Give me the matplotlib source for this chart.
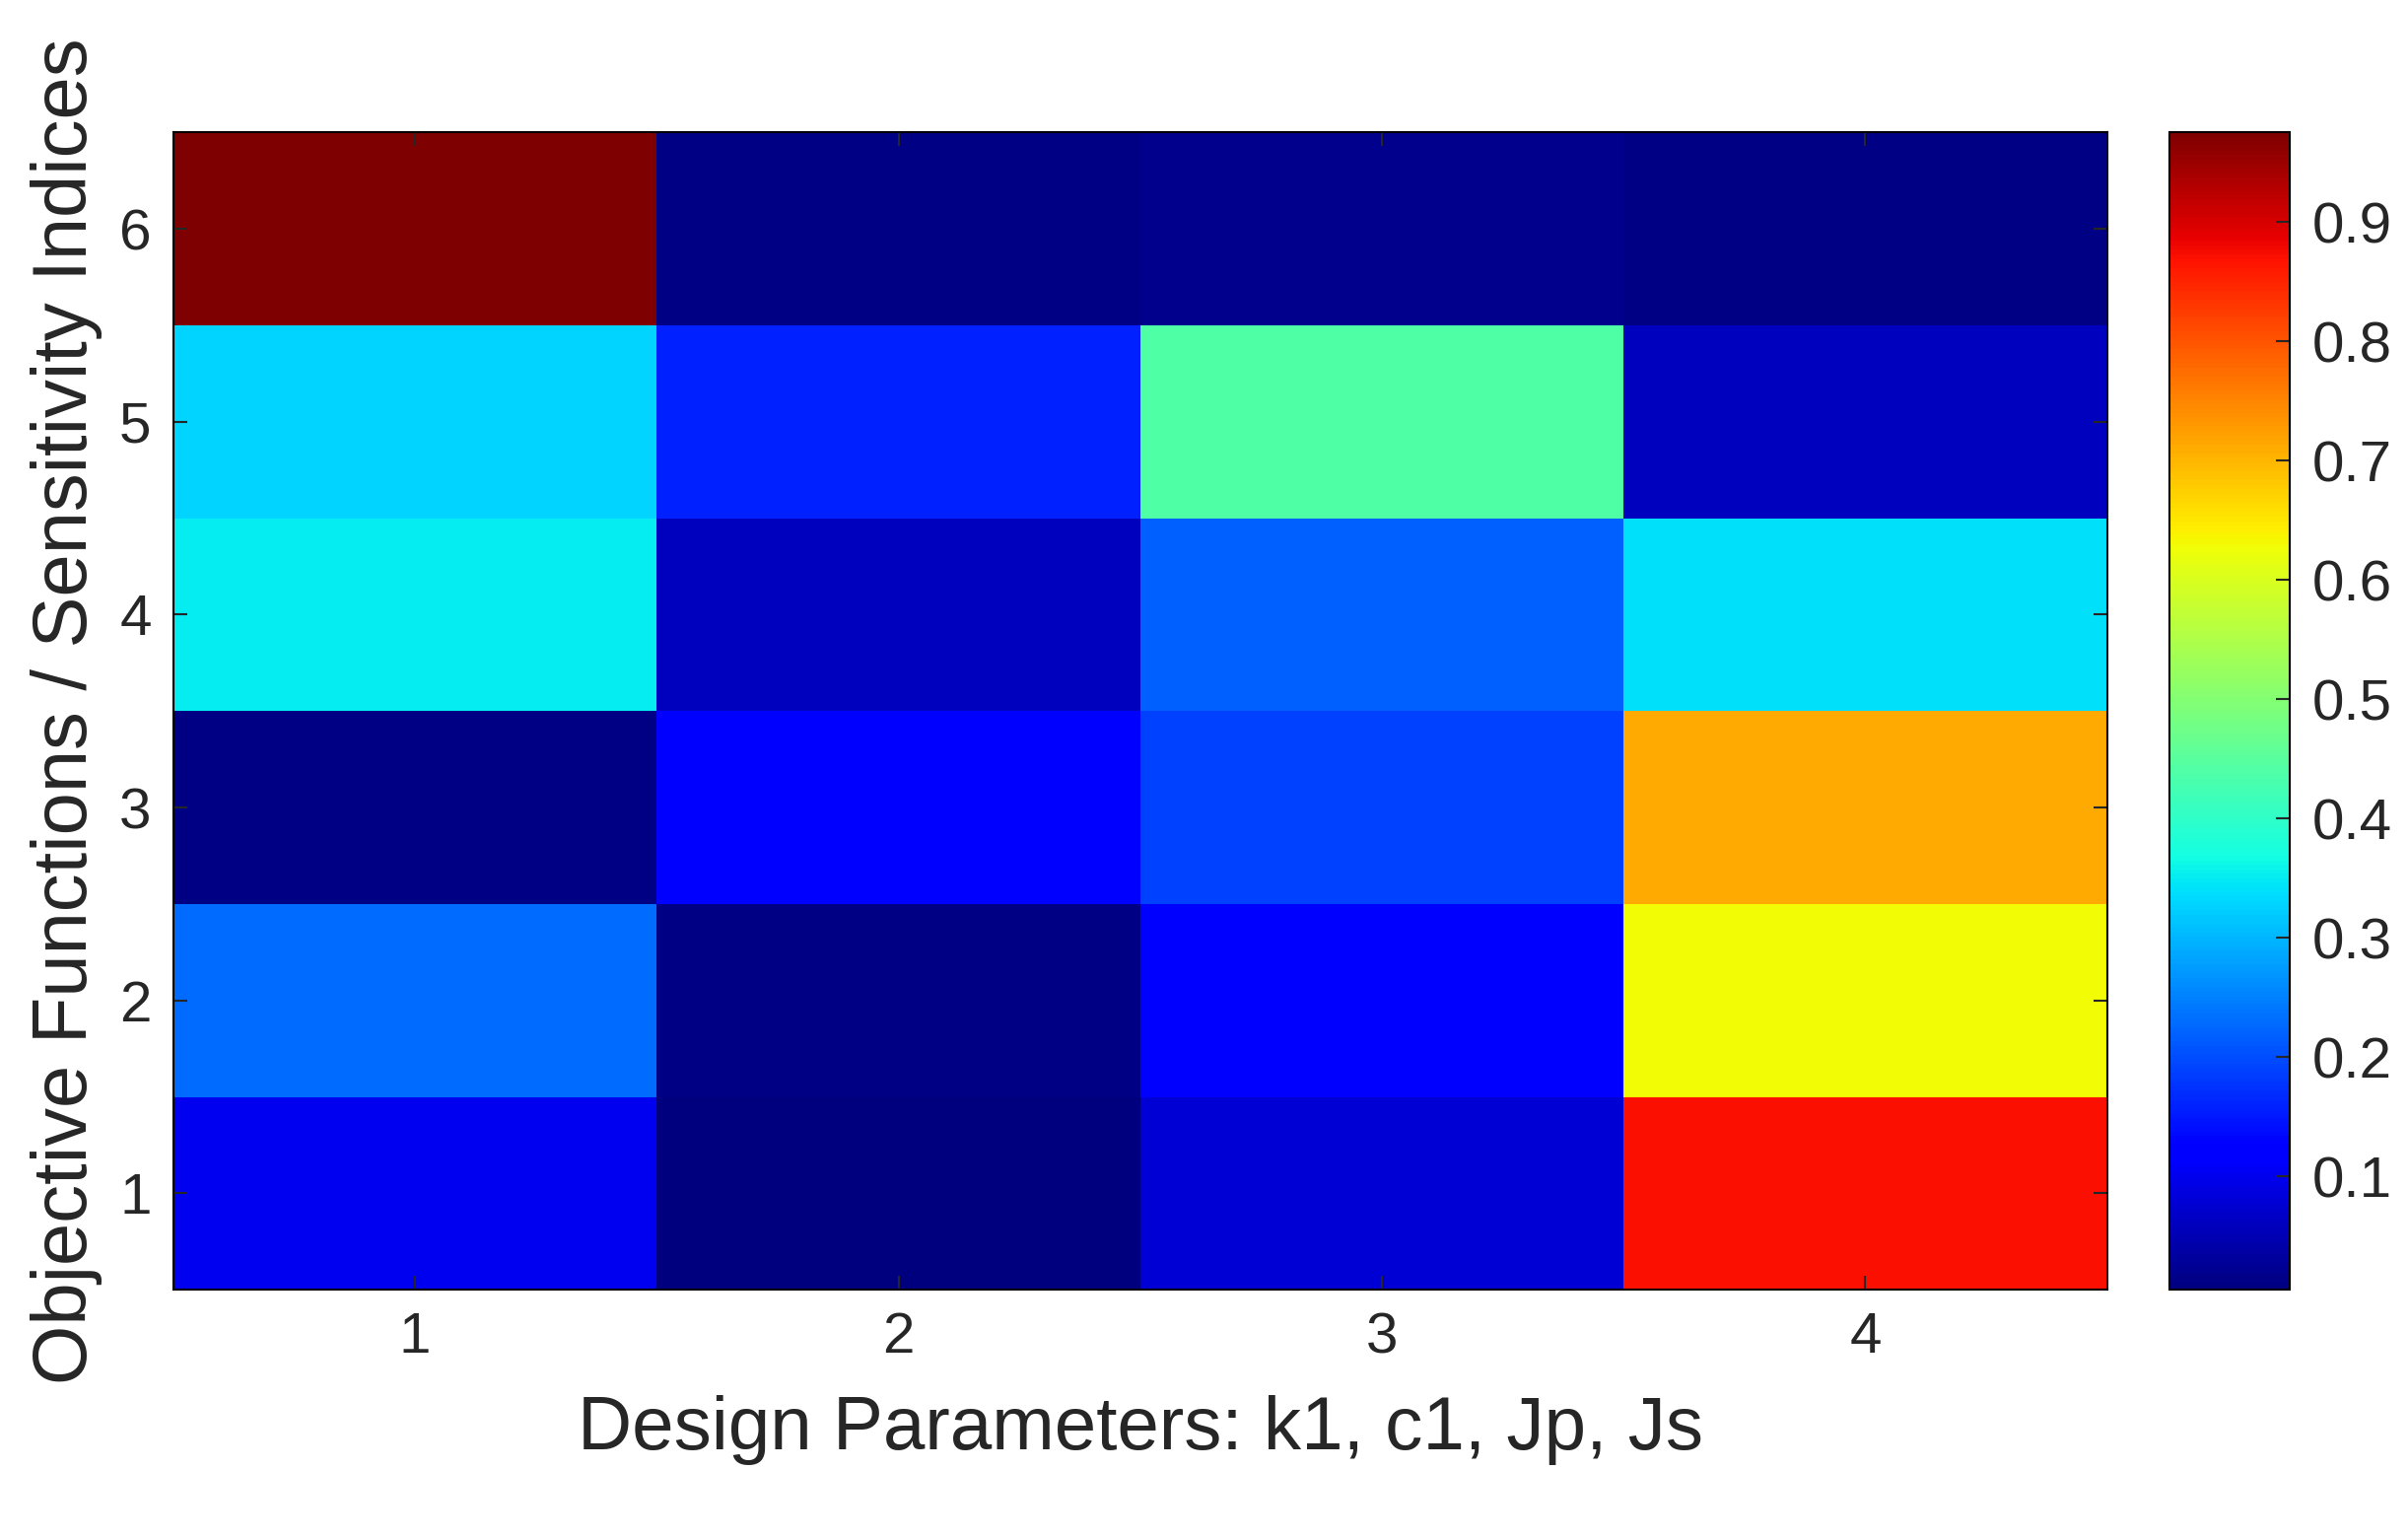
import matplotlib.pyplot as plt
import numpy as np

params = [1, 2, 3, 4]
objectives = [1, 2, 3, 4, 5, 6]
# rows: objective 1..6, columns: design parameter 1..4
indices = np.array([
    [0.10, 0.005, 0.08, 0.87],
    [0.23, 0.01, 0.13, 0.63],
    [0.01, 0.12, 0.19, 0.71],
    [0.35, 0.06, 0.22, 0.34],
    [0.33, 0.16, 0.44, 0.06],
    [0.975, 0.01, 0.02, 0.01],
])
cbar_ticks = [0.1, 0.2, 0.3, 0.4, 0.5, 0.6, 0.7, 0.8, 0.9]

plt.rcParams['font.family'] = ['Liberation Sans', 'DejaVu Sans']

fig = plt.figure(figsize=(24.43, 15.61), dpi=100)
ax = fig.add_axes([0.072, 0.162, 0.803, 0.752])
cax = fig.add_axes([0.901, 0.162, 0.050, 0.752])

im = ax.imshow(indices, cmap='jet', origin='lower', aspect='auto',
               extent=[0.5, 4.5, 0.5, 6.5])
ax.set_xticks(params)
ax.set_yticks(objectives)
ax.tick_params(direction='in', top=True, right=True, length=10, width=1.5,
               labelsize=42, pad=16, colors='#262626')
ax.set_xlabel("Design Parameters: k1, c1, Jp, Js", fontsize=55, labelpad=22,
              color='#262626')
ax.set_ylabel("Objective Functions / Sensitivity Indices", fontsize=56,
              labelpad=12, color='#262626')
for s in ax.spines.values():
    s.set_linewidth(1.5)

cb = fig.colorbar(im, cax=cax, ticks=cbar_ticks)
cb.ax.tick_params(direction='in', length=10, width=1.5, labelsize=42, pad=16,
                  colors='#262626')
cb.outline.set_linewidth(1.5)

plt.savefig("out.png", dpi=100)
plt.close()
